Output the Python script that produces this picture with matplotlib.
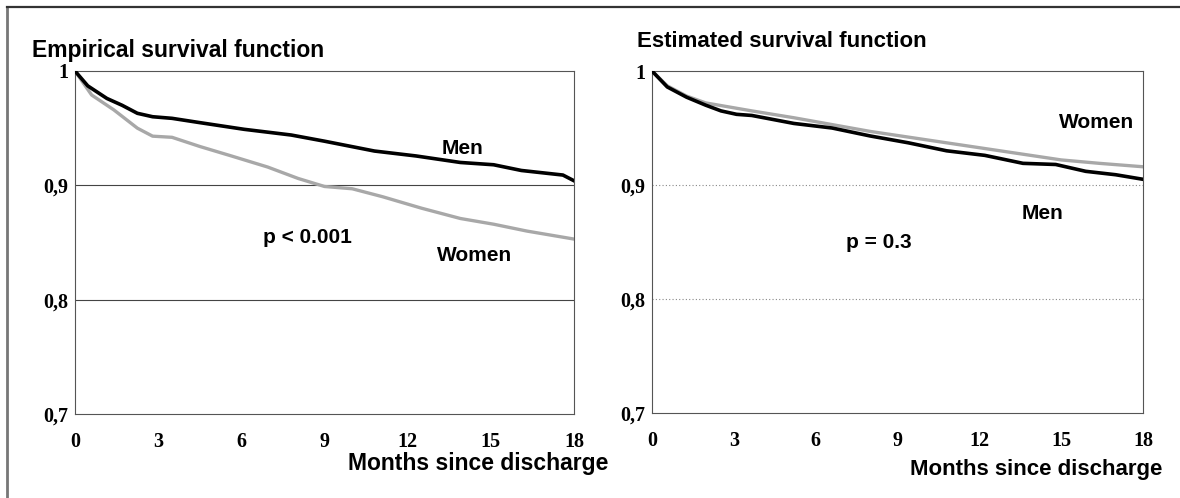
import matplotlib
matplotlib.use("Agg")
import matplotlib.pyplot as plt
from matplotlib.lines import Line2D

# Empirical survival function (left panel)
emp_men_month = [0, 0.46, 1.15, 1.7, 2.25, 2.8, 3.5, 4.46, 6.1, 7.8, 9.0, 10.8, 12.3, 13.9, 15.1, 16.1, 17.6, 18]
emp_men_surv = [1.0, 0.987, 0.976, 0.970, 0.963, 0.960, 0.9586, 0.955, 0.949, 0.944, 0.9386, 0.930, 0.9257, 0.920, 0.918, 0.913, 0.909, 0.904]
emp_women_month = [0, 0.6, 1.4, 2.25, 2.8, 3.5, 4.5, 5.6, 6.95, 8.05, 9.0, 10.0, 11.1, 12.5, 13.9, 15.1, 16.3, 18]
emp_women_surv = [1.0, 0.979, 0.966, 0.950, 0.943, 0.942, 0.934, 0.926, 0.916, 0.906, 0.899, 0.897, 0.890, 0.880, 0.871, 0.866, 0.860, 0.853]

# Estimated survival function (right panel)
est_men_month = [0, 0.56, 1.27, 1.97, 2.53, 3.1, 3.66, 5.2, 6.6, 8.0, 9.4, 10.8, 12.2, 13.6, 14.8, 15.9, 17.0, 18]
est_men_surv = [1.0, 0.986, 0.977, 0.970, 0.965, 0.962, 0.961, 0.954, 0.950, 0.943, 0.937, 0.930, 0.926, 0.919, 0.918, 0.912, 0.909, 0.905]
est_women_month = [0, 0.56, 1.27, 1.97, 3.66, 5.2, 6.6, 8.0, 9.4, 10.8, 12.2, 13.6, 15.0, 16.4, 18]
est_women_surv = [1.0, 0.987, 0.978, 0.972, 0.965, 0.959, 0.953, 0.947, 0.942, 0.937, 0.932, 0.927, 0.922, 0.919, 0.916]

x_ticks = [0, 3, 6, 9, 12, 15, 18]
y_ticks = [0.7, 0.8, 0.9, 1.0]
y_tick_labels = ["0,7", "0,8", "0,9", "1"]

serif = "Liberation Serif"
sans = "Liberation Sans"

fig = plt.figure(figsize=(11.8, 4.98), dpi=100)

# outer frame of the scanned figure
fig.add_artist(Line2D([7 / 1180, 7 / 1180], [0, 1 - 7 / 498], transform=fig.transFigure, color="#777777", lw=2))
fig.add_artist(Line2D([7 / 1180, 1], [1 - 7 / 498, 1 - 7 / 498], transform=fig.transFigure, color="#333333", lw=1.6))

ax1 = fig.add_axes([75 / 1180, 1 - 414 / 498, 499 / 1180, 343 / 498])
ax2 = fig.add_axes([652 / 1180, 1 - 413 / 498, 491 / 1180, 342 / 498])

for ax in (ax1, ax2):
    ax.set_xlim(0, 18)
    ax.set_ylim(0.7, 1.0)
    ax.set_xticks(x_ticks)
    ax.set_xticklabels([str(t) for t in x_ticks], fontfamily=serif, fontweight="bold", fontsize=14.5)
    ax.set_yticks(y_ticks)
    ax.set_yticklabels(y_tick_labels, fontfamily=serif, fontweight="bold", fontsize=14.5)
    ax.tick_params(axis="both", length=0)
    ax.tick_params(axis="x", pad=13)
    ax.tick_params(axis="y", pad=5)
    for s in ax.spines.values():
        s.set_color("#555555")
        s.set_linewidth(0.8)

lbl = dict(fontfamily=sans, fontweight="bold", fontsize=15, ha="center", va="center")

# left panel
for yv in (0.8, 0.9):
    ax1.axhline(yv, color="#444444", lw=0.8, zorder=1)
ax1.plot(emp_women_month, emp_women_surv, color="#a8a8a8", lw=2.4, zorder=2)
ax1.plot(emp_men_month, emp_men_surv, color="black", lw=2.6, zorder=3)
ax1.text(13.96, 0.932, "Men", **lbl)
ax1.text(8.4, 0.854, "p < 0.001", **lbl)
ax1.text(14.4, 0.839, "Women", **lbl)
ax1.text(-0.086, 1.06, "Empirical survival function", transform=ax1.transAxes,
         fontfamily=sans, fontweight="bold", fontsize=16.5, ha="left", va="center")
ax1.text(1.068, -0.143, "Months since discharge", transform=ax1.transAxes,
         fontfamily=sans, fontweight="bold", fontsize=16.5, ha="right", va="center")

# right panel
for yv in (0.8, 0.9):
    ax2.axhline(yv, color="#888888", lw=0.8, linestyle=(0, (1, 2)), zorder=1)
ax2.plot(est_women_month, est_women_surv, color="#a8a8a8", lw=2.4, zorder=2)
ax2.plot(est_men_month, est_men_surv, color="black", lw=2.6, zorder=3)
ax2.text(16.3, 0.955, "Women", **lbl)
ax2.text(14.3, 0.875, "Men", **lbl)
ax2.text(8.3, 0.850, "p = 0.3", **lbl)
ax2.text(-0.031, 1.085, "Estimated survival function", transform=ax2.transAxes,
         fontfamily=sans, fontweight="bold", fontsize=16, ha="left", va="center")
ax2.text(1.039, -0.164, "Months since discharge", transform=ax2.transAxes,
         fontfamily=sans, fontweight="bold", fontsize=16, ha="right", va="center")

fig.savefig("out.png", dpi=100)
